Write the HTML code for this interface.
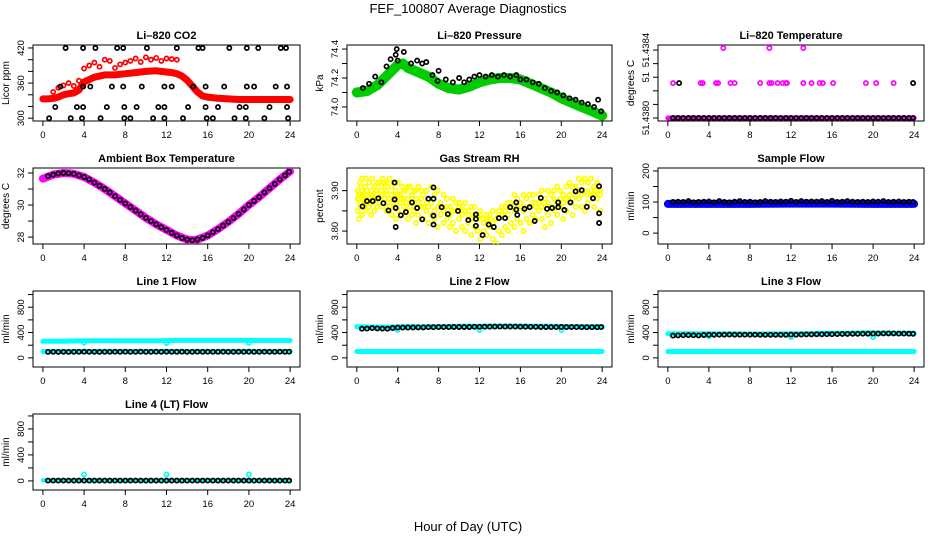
<!DOCTYPE html>
<html><head><meta charset="utf-8">
<style>
html,body{margin:0;padding:0;background:#fff;}
svg{display:block;font-family:"Liberation Sans",Arial,sans-serif;}
</style></head>
<body>
<svg id="chart" width="936" height="540" viewBox="0 0 936 540">
<rect x="0" y="0" width="936" height="540" fill="#fff"/>
<text x="468" y="13" text-anchor="middle" font-size="13">FEF_100807  Average Diagnostics</text>
<text x="468" y="531" text-anchor="middle" font-size="13">Hour of Day (UTC)</text>
</svg>
<script>
// ---------- shared time arrays ----------
const HOURS = [0,1,2,3,4,5,6,7,8,9,10,11,12,13,14,15,16,17,18,19,20,21,22,23,24];
const HALF = [0.5,1,1.5,2,2.5,3,3.5,4,4.5,5,5.5,6,6.5,7,7.5,8,8.5,9,9.5,10,10.5,11,11.5,12,12.5,13,13.5,14,14.5,15,15.5,16,16.5,17,17.5,18,18.5,19,19.5,20,20.5,21,21.5,22,22.5,23,23.5,23.9];
const xTicks = [0,4,8,12,16,20,24];

// ---------- CO2 ----------
const co2BandT = [0,0.5,1,1.5,2,2.5,3,3.5,4,4.5,5,6,7,8,9,10,11,12,12.5,13,13.5,14,14.5,15,15.5,16,17,18,19,20,21,22,23,24];
const co2BandV = [333,333,334,336,340,342,343,348,362,366,370,374,374,376,378,380,381,379,378,376,372,365,355,345,338,336,334,333,332,332,332,332,332,332];
const co2ScatT = [1,1.5,2,2.5,3,3.5,4,4.5,5,5.5,6,6.5,7,7.5,8,8.5,9,9.5,10,10.5,11,11.5,12,12.5,13];
const co2ScatV = [345,352,356,360,355,364,385,390,395,388,400,398,386,392,395,398,402,396,404,400,403,398,402,401,400];
const co2BlkT = [2.2,3.9,5.1,7.2,7.8,10.1,13.0,15.1,15.5,18.1,19.8,20.9,23.1,23.6, 1.7,3.9,4.6,6.7,7.8,9.6,11.8,12.5,14.6,15.8,17.6,19.8,20.5,22.6,23.7, 1.2,3.3,3.9,6.2,7.9,9.1,11.2,11.8,14.1,15.8,17.0,19.1,19.7,22.0,23.7, 0.6,2.7,3.8,5.6,7.9,8.5,10.7,11.8,13.6,15.9,16.5,18.6,19.7,21.5,23.8];
const co2BlkV = [420,420,420,420,420,420,420,420,420,420,420,420,420,420, 354,354,354,354,354,354,354,354,354,354,354,354,354,354,354, 319,319,319,319,319,319,319,319,319,319,319,319,319,319,319, 300,300,300,300,300,300,300,300,300,300,300,300,300,300,300];

// ---------- Pressure ----------
const prBandT = [0,1,2,3,4,4.5,5,6,7,8,9,10,11,12,13,14,15,16,17,18,19,20,21,22,23,24];
const prBandV = [74.10,74.11,74.15,74.22,74.29,74.30,74.27,74.24,74.21,74.16,74.13,74.12,74.14,74.17,74.19,74.20,74.20,74.19,74.16,74.13,74.10,74.06,74.03,74.00,73.97,73.94];
const prBlkT = [0.6,1.2,1.8,2.4,2.9,3.3,3.8,3.9,4.0,4.6,5.3,5.9,6.4,6.8,7.4,7.9,8.0,8.7,9.4,10.0,10.5,11,11.5,12,12.6,13.2,13.8,14.4,15,15.6,16,16.6,17.2,17.8,18.4,19,19.6,20.2,20.8,21.4,22,22.6,23.2,23.6,23.9];
const prBlkV = [74.13,74.16,74.21,74.17,74.28,74.33,74.36,74.40,74.32,74.38,74.30,74.32,74.30,74.31,74.22,74.18,74.25,74.19,74.17,74.20,74.17,74.19,74.21,74.22,74.21,74.22,74.21,74.22,74.21,74.22,74.19,74.19,74.17,74.16,74.13,74.11,74.10,74.08,74.06,74.05,74.03,74.02,74.00,74.05,73.97];

// ---------- Li-820 temperature (index units of tick steps) ----------
const tmpBaseT = [0,24];
const tmpBaseV = [0,0];
const tmpMidT = [0.5,3.2,3.4,4.7,4.9,6.1,6.5,9,9.9,10.1,10.7,11.2,11.5,11.6,13.2,14,14.8,15.1,16.1,19.3,20.3,22];
const tmpMidV = [2.57,2.57,2.57,2.57,2.57,2.57,2.57,2.57,2.57,2.57,2.57,2.57,2.57,2.57,2.57,2.57,2.57,2.57,2.57,2.57,2.57,2.57];
const tmpTopT = [5.4,9.9,13.2];
const tmpTopV = [5.15,5.15,5.15];
const tmpBlkT = [1.1,23.9];
const tmpBlkV = [2.57,2.57];
const tmpBlkBaseV = [0,0,0,0,0,0,0,0,0,0,0,0,0,0,0,0,0,0,0,0,0,0,0,0,0,0,0,0,0,0,0,0,0,0,0,0,0,0,0,0,0,0,0,0,0,0,0,0];

// ---------- Ambient box temperature ----------
const ambBandT = [0,1,2,3,4,5,6,7,8,9,10,11,12,13,14,14.5,15,16,17,18,19,20,21,22,23,24];
const ambBandV = [31.65,31.9,32.0,31.95,31.75,31.4,31.0,30.55,30.1,29.65,29.2,28.8,28.45,28.1,27.85,27.8,27.85,28.1,28.5,28.95,29.45,30.0,30.5,31.05,31.6,32.1];
const ambBlkV = [31.8,31.9,31.97,32.0,31.98,31.95,31.85,31.75,31.6,31.4,31.2,31.0,30.78,30.55,30.32,30.1,29.88,29.65,29.42,29.2,29.0,28.8,28.62,28.45,28.27,28.1,27.95,27.85,27.8,27.85,27.95,28.1,28.3,28.5,28.72,28.95,29.2,29.45,29.72,30.0,30.25,30.5,30.78,31.05,31.32,31.6,31.85,32.08];

// ---------- Gas stream RH ----------
const rhT = [0.1,0.2,0.3,0.4,0.5,0.6,0.8,0.9,1.0,1.2,1.4,1.5,1.7,1.9,2.0,2.2,2.4,2.5,2.7,2.9,3.0,3.2,3.4,3.6,3.8,4.0,4.2,4.4,4.6,4.8,5.0,5.2,5.4,5.6,5.8,6.0,6.3,6.5,6.8,7.0,7.3,7.6,7.9,8.2,8.5,8.8,9.1,9.4,9.7,10.0,10.3,10.6,10.9,11.2,11.5,11.8,12.1,12.4,12.7,13.0,13.3,13.6,13.9,14.2,14.5,14.8,15.1,15.4,15.7,16.0,16.3,16.6,16.9,17.2,17.5,17.8,18.1,18.4,18.7,19.0,19.3,19.6,19.9,20.2,20.5,20.8,21.1,21.4,21.7,22.0,22.3,22.6,22.9,23.2,23.5,23.8];
const rhA = [3.90,3.88,3.92,3.91,3.93,3.89,3.91,3.93,3.90,3.92,3.89,3.93,3.91,3.90,3.92,3.92,3.91,3.93,3.92,3.92,3.91,3.93,3.91,3.92,3.90,3.92,3.89,3.91,3.90,3.90,3.91,3.91,3.89,3.90,3.90,3.91,3.90,3.89,3.90,3.88,3.91,3.89,3.90,3.87,3.89,3.88,3.86,3.88,3.87,3.87,3.86,3.87,3.85,3.86,3.86,3.84,3.85,3.83,3.84,3.84,3.85,3.83,3.85,3.86,3.86,3.87,3.87,3.89,3.88,3.87,3.89,3.88,3.89,3.89,3.87,3.89,3.90,3.88,3.90,3.89,3.90,3.91,3.90,3.89,3.91,3.92,3.91,3.91,3.93,3.92,3.93,3.92,3.93,3.91,3.92,3.90];
const rhB = [3.85,3.83,3.86,3.87,3.84,3.86,3.88,3.85,3.87,3.86,3.84,3.87,3.85,3.88,3.86,3.87,3.89,3.86,3.88,3.85,3.87,3.86,3.84,3.86,3.83,3.85,3.87,3.84,3.86,3.85,3.83,3.86,3.84,3.85,3.82,3.84,3.86,3.83,3.85,3.82,3.84,3.83,3.81,3.84,3.82,3.83,3.81,3.82,3.80,3.83,3.81,3.80,3.82,3.79,3.81,3.80,3.78,3.80,3.79,3.81,3.78,3.77,3.80,3.79,3.81,3.80,3.82,3.81,3.83,3.82,3.80,3.83,3.82,3.84,3.83,3.85,3.83,3.81,3.84,3.82,3.85,3.84,3.86,3.83,3.85,3.87,3.84,3.86,3.88,3.86,3.85,3.87,3.89,3.86,3.88,3.85];
const rhC = [3.88,3.89,3.87,3.89,3.90,3.88,3.89,3.87,3.90,3.88,3.90,3.89,3.88,3.90,3.89,3.88,3.90,3.89,3.88,3.90,3.89,3.88,3.89,3.87,3.88,3.89,3.87,3.88,3.88,3.87,3.88,3.87,3.88,3.86,3.88,3.87,3.88,3.86,3.87,3.86,3.87,3.85,3.86,3.86,3.85,3.86,3.84,3.85,3.85,3.86,3.84,3.85,3.84,3.83,3.84,3.83,3.84,3.82,3.83,3.83,3.82,3.83,3.84,3.84,3.85,3.84,3.86,3.85,3.86,3.86,3.85,3.86,3.86,3.87,3.86,3.87,3.86,3.87,3.87,3.86,3.88,3.87,3.88,3.87,3.88,3.89,3.88,3.89,3.90,3.89,3.90,3.89,3.90,3.89,3.90,3.89];
const rhBlkT = [0.56,1.0,1.55,2.1,2.6,3.1,3.7,3.7,3.8,3.8,4.3,4.8,5.4,5.9,6.4,7.0,7.5,7.5,7.5,7.5,8.3,8.9,9.9,10.9,11.65,11.65,11.65,12.3,12.9,13.4,13.9,14.5,15.0,15.6,15.6,15.7,16.4,16.9,17.4,18.0,18.6,19.1,19.7,19.7,20.3,20.9,21.4,22.0,22.5,23.1,23.7,23.7,23.7];
const rhBlkV = [3.861,3.874,3.874,3.881,3.869,3.851,3.920,3.878,3.857,3.810,3.839,3.847,3.871,3.857,3.829,3.880,3.908,3.880,3.838,3.816,3.859,3.842,3.850,3.827,3.841,3.830,3.813,3.790,3.816,3.810,3.832,3.832,3.859,3.871,3.853,3.840,3.855,3.859,3.825,3.882,3.855,3.857,3.871,3.859,3.852,3.871,3.898,3.901,3.860,3.881,3.911,3.844,3.820];

// ---------- Sample flow ----------
const sfBandT = [0,4,8,12,16,20,24];
const sfBandV = [94,94,94,95,95,94,94];
const sfBlkV = [100,101,100,103,99,100,101,102,99,103,100,99,101,103,100,101,99,100,103,101,100,102,101,104,100,103,101,102,101,103,100,104,100,101,103,101,100,101,100,102,101,103,100,101,102,100,101,100];

// ---------- Line flows ----------
const l1UpV = [262,262,264,266,272,270,270,272,272,272,272,272,273,276,276,276,276,276,276,276,274,274,274,274,274];
const l1LowV = [100,100,100,100,100,100,100,100,100,100,100,100,100,100,100,100,100,100,100,100,100,100,100,100,100];
const l1DipT = [4,12,20];
const l1DipV = [240,235,240];
const l1BlkV = [95,96,95,96,95,96,96,97,96,96,95,96,96,97,96,98,96,96,97,96,96,97,96,98,96,96,97,96,96,97,96,98,96,96,97,96,96,97,96,98,96,96,97,96,96,97,96,97];
const l2UpV = [490,488,486,486,492,494,494,494,496,496,498,498,500,502,502,502,502,500,500,498,496,496,496,494,494];
const l2LowV = [100,100,100,100,100,100,100,100,100,100,100,100,100,100,100,100,100,100,100,100,100,100,100,100,100];
const l2BlkV = [460,462,470,466,462,460,472,478,478,480,480,482,482,484,484,486,486,486,488,488,488,488,490,490,492,492,494,494,494,494,494,492,492,490,490,488,488,486,486,488,486,486,486,484,484,484,484,486];
const l3UpV = [382,382,382,382,380,378,378,378,376,376,378,378,380,382,384,386,388,390,392,394,394,392,390,390,388];
const l3LowV = [100,100,100,100,100,100,100,100,100,100,100,100,100,100,100,100,100,100,100,100,100,100,100,100,100];
const l3BlkV = [352,355,358,360,358,355,362,366,364,366,366,368,366,366,366,366,366,364,364,364,364,364,364,368,366,368,370,370,372,372,374,374,376,378,378,380,380,382,382,384,384,386,386,386,384,384,382,380];
const l4BandV = [10,10,10,10,10,10,10,10,10,10,10,10,10,10,10,10,10,10,10,10,10,10,10,10,10];
const l4SpikeT = [4,12,20];
const l4SpikeV = [100,100,100];
const l4BlkV = [5,5,5,5,5,5,5,5,5,5,5,5,5,5,5,5,5,5,5,5,5,5,5,5,5,5,5,5,5,5,5,5,5,5,5,5,5,5,5,5,5,5,5,5,5,5,5,5];

// ---------- layout ----------
const NS = 'http://www.w3.org/2000/svg';
const svg = document.getElementById('chart');
const COLX = [[33,300],[347,612],[658,924]];
const ROWY = [45,168,291,414];
const PH = 76;
function mk(tag, attrs, parent){
  const e = document.createElementNS(NS, tag);
  for (const k in attrs) e.setAttribute(k, attrs[k]);
  (parent || svg).appendChild(e);
  return e;
}
function panel(cfg){
  const g = mk('g', {});
  
  
  const [x0,x1] = COLX[cfg.col], y0 = ROWY[cfg.row], y1 = y0 + PH;
  const xs = t => x0 + (t + 0.96) / 25.92 * (x1 - x0);
  const ys = v => y1 - (v - cfg.ylim[0]) / (cfg.ylim[1] - cfg.ylim[0]) * PH;
  const p = {g, xs, ys, x0, x1, y0, y1};
  const tt = mk('text', {x:(x0+x1)/2, y:y0-6, 'text-anchor':'middle', 'font-size':11, 'font-weight':'bold'}, g);
  tt.textContent = cfg.title;
  
  
  const bx = mk('rect', {x:x0, y:y0, width:x1-x0, height:PH, fill:'none', stroke:'#000', 'stroke-width':1}, g);
  
  
  const xa = mk('g', {}, g);
  
  
  xTicks.forEach(t => {
    mk('line', {x1:xs(t), x2:xs(t), y1:y1, y2:y1+5, stroke:'#000'}, xa);
    const l = mk('text', {x:xs(t), y:y1+17, 'text-anchor':'middle', 'font-size':9.5}, xa);
    l.textContent = t;
    
    
  });
  const ya = mk('g', {}, g);
  
  
  cfg.ticks.forEach((v,i) => {
    mk('line', {x1:x0, x2:x0-5, y1:ys(v), y2:ys(v), stroke:'#000'}, ya);
    if (cfg.labels[i] !== '') {
      const yy = ys(v);
      const l = mk('text', {x:x0-9, y:yy, 'text-anchor':'middle', 'font-size':9.5, transform:`rotate(-90 ${x0-9} ${yy})`}, ya);
      l.textContent = cfg.labels[i];
      
      
    }
  });
  const yl = (y0+y1)/2, xl = x0 - 24;
  const yt = mk('text', {x:xl, y:yl, 'text-anchor':'middle', 'font-size':10, transform:`rotate(-90 ${xl} ${yl})`}, g);
  yt.textContent = cfg.ylab;
  
  
  const clip = 'clip' + cfg.name;
  const cp = mk('clipPath', {id:clip}, g);
  mk('rect', {x:x0, y:y0, width:x1-x0, height:PH}, cp);
  p.plot = mk('g', {'clip-path':`url(#${clip})`}, g);
  return p;
}
function band(p, T, V, color, w, name){
  const pts = T.map((t,i) => p.xs(t).toFixed(1) + ',' + p.ys(V[i]).toFixed(1)).join(' ');
  const e = mk('polyline', {points:pts, fill:'none', stroke:color, 'stroke-width':w, 'stroke-linejoin':'round', 'stroke-linecap':'round'}, p.plot);
  
  
}
function pts(p, T, V, color, name, r){
  const g = mk('g', {}, p.plot);
  
  
  const n = Math.min(T.length, V.length);
  for (let i = 0; i < n; i++) {
    const c = mk('circle', {cx:p.xs(T[i]).toFixed(1), cy:p.ys(V[i]).toFixed(1), r:r||2.1, fill:'none', stroke:color, 'stroke-width':1.7}, g);
    
    
  }
}

let p = panel({name:'co2', col:0, row:0, title:'Li\u2013820 CO2', ylab:'Licor ppm', ylim:[295.2,425.1], ticks:[300,320,340,360,380,400,420], labels:['300','','','360','','','420']});
band(p, co2BandT, co2BandV, '#ff0000', 7, 'co2-series');
pts(p, co2ScatT, co2ScatV, '#ff0000', 'co2-scatter');
pts(p, co2BlkT, co2BlkV, '#000', 'co2-averages');

p = panel({name:'pressure', col:1, row:0, title:'Li\u2013820 Pressure', ylab:'kPa', ylim:[73.903,74.428], ticks:[74.0,74.1,74.2,74.3,74.4], labels:['74.0','','74.2','','74.4']});
band(p, prBandT, prBandV, '#00cc00', 10, 'pressure-series');
pts(p, prBlkT, prBlkV, '#000', 'pressure-averages');

p = panel({name:'li820temp', col:2, row:0, title:'Li\u2013820 Temperature', ylab:'degrees C', ylim:[-0.22,5.37], ticks:[0,1,2,3,4,5], labels:['51.4380','','','51','','51.4384']});
band(p, tmpBaseT, tmpBaseV, '#ff00ff', 5, 'temp-base-series');
pts(p, tmpMidT, tmpMidV, '#ff00ff', 'temp-mid-points');
pts(p, tmpTopT, tmpTopV, '#ff00ff', 'temp-top-points');
pts(p, HALF, tmpBlkBaseV, '#000', 'temp-averages');
pts(p, tmpBlkT, tmpBlkV, '#000', 'temp-averages-mid');

p = panel({name:'ambient', col:0, row:1, title:'Ambient Box Temperature', ylab:'degrees C', ylim:[27.57,32.31], ticks:[28,29,30,31,32], labels:['28','','30','','32']});
band(p, ambBandT, ambBandV, '#ff00ff', 8, 'ambient-series');
pts(p, HALF, ambBlkV, '#000', 'ambient-averages');

p = panel({name:'rh', col:1, row:1, title:'Gas Stream RH', ylab:'percent', ylim:[3.768,3.956], ticks:[3.80,3.85,3.90], labels:['3.80','','3.90']});
pts(p, rhT, rhA, '#ffff00', 'rh-scatter-a');
pts(p, rhT, rhB, '#ffff00', 'rh-scatter-b');
pts(p, rhT, rhC, '#ffff00', 'rh-scatter-c');
pts(p, rhBlkT, rhBlkV, '#000', 'rh-averages');

p = panel({name:'sampleflow', col:2, row:1, title:'Sample Flow', ylab:'ml/min', ylim:[-35,209.5], ticks:[0,50,100,150,200], labels:['0','','100','','200']});
band(p, sfBandT, sfBandV, '#0000ff', 8, 'sample-flow-series');
pts(p, HALF, sfBlkV, '#000', 'sample-flow-averages');

const flowTicks = [0,200,400,600,800,1000];
const flowLabels = ['0','','400','','800',''];
p = panel({name:'line1', col:0, row:2, title:'Line 1 Flow', ylab:'ml/min', ylim:[-144,1056], ticks:flowTicks, labels:flowLabels});
band(p, HOURS, l1UpV, '#00ffff', 5, 'line1-sample-series');
band(p, HOURS, l1LowV, '#00ffff', 5, 'line1-low-series');
pts(p, l1DipT, l1DipV, '#00ffff', 'line1-dips');
pts(p, HALF, l1BlkV, '#000', 'line1-averages');
p = panel({name:'line2', col:1, row:2, title:'Line 2 Flow', ylab:'ml/min', ylim:[-144,1056], ticks:flowTicks, labels:flowLabels});
band(p, HOURS, l2UpV, '#00ffff', 5, 'line2-sample-series');
band(p, HOURS, l2LowV, '#00ffff', 5, 'line2-low-series');
pts(p, l1DipT, [440,440,440], '#00ffff', 'line2-dips');
pts(p, HALF, l2BlkV, '#000', 'line2-averages');
p = panel({name:'line3', col:2, row:2, title:'Line 3 Flow', ylab:'ml/min', ylim:[-144,1056], ticks:flowTicks, labels:flowLabels});
band(p, HOURS, l3UpV, '#00ffff', 5, 'line3-sample-series');
band(p, HOURS, l3LowV, '#00ffff', 5, 'line3-low-series');
pts(p, l1DipT, [340,330,330], '#00ffff', 'line3-dips');
pts(p, HALF, l3BlkV, '#000', 'line3-averages');
p = panel({name:'line4', col:0, row:3, title:'Line 4 (LT) Flow', ylab:'ml/min', ylim:[-140,1030], ticks:flowTicks, labels:flowLabels});
band(p, HOURS, l4BandV, '#00ffff', 4, 'line4-series');
pts(p, l4SpikeT, l4SpikeV, '#00ffff', 'line4-spikes');
pts(p, HALF, l4BlkV, '#000', 'line4-averages');
</script>
</body></html>
